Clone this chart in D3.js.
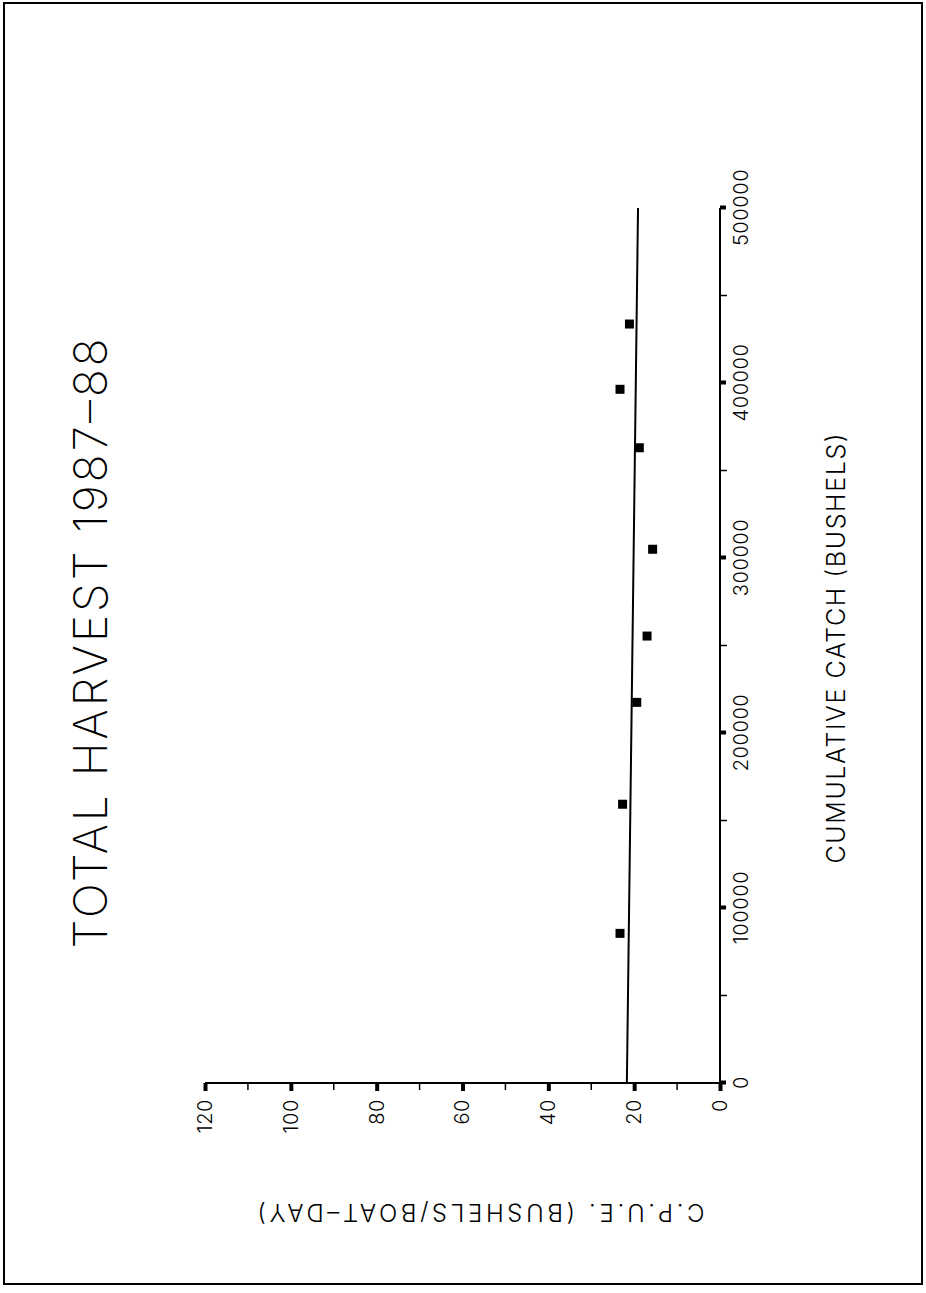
<!DOCTYPE html>
<html>
<head>
<meta charset="utf-8">
<script src="https://cdn.jsdelivr.net/npm/d3@7"></script>
<style>
  body { margin: 0; background: #fff; }
  text { font-family: Inter, "DejaVu Sans", sans-serif; fill: #000; }
</style>
</head>
<body>
<svg id="chart" width="926" height="1293"></svg>
<script>
// Cumulative catch (bushels) and catch per unit effort for each sampling period
const catchValues = [85500, 159300, 217500, 255400, 305000, 363000, 396400, 433700];
const cpueValues  = [23.3, 22.7, 19.4, 17.0, 15.7, 18.8, 23.3, 21.1];

// Fitted depletion line (end points)
const fitCatch = [0, 500000];
const fitCpue  = [21.7, 19.1];

// Axis ticks
const xMajorTicks = [0, 100000, 200000, 300000, 400000, 500000];
const xMinorTicks = [50000, 150000, 250000, 350000, 450000];
const yMajorTicks = [0, 20, 40, 60, 80, 100, 120];
const yMinorTicks = [10, 30, 50, 70, 90, 110];

const titleText  = "TOTAL HARVEST 1987\u201388";
const xLabelText = "CUMULATIVE CATCH (BUSHELS)";
const yLabelText = "C.P.U.E. (BUSHELS/BOAT\u2013DAY)";

const svg = d3.select("#chart");

// page frame
svg.append("rect")
  .attr("x", 4).attr("y", 3).attr("width", 918).attr("height", 1281)
  .attr("fill", "none").attr("stroke", "#000").attr("stroke-width", 2);

// plot is laid out in its own frame, then turned a quarter turn on the page
const plotW = 875, plotH = 515;
const x = d3.scaleLinear().domain([0, 500000]).range([0, plotW]);
const y = d3.scaleLinear().domain([0, 120]).range([0, -plotH]);

const g = svg.append("g").attr("transform", "translate(720,1083) rotate(-90)");

// X axis: major ticks thick, half-step ticks thin
const xAxis = g.append("g")
  .call(d3.axisBottom(x).tickValues(xMajorTicks).tickSize(6).tickPadding(8)
    .tickFormat(d3.format("d")));
xAxis.select(".domain").attr("stroke-width", 2).attr("d", `M0,0H${plotW}`);
xAxis.selectAll(".tick line").attr("stroke-width", 4);
xAxis.selectAll(".tick text").attr("font-size", 20).attr("font-weight", 300)
  .attr("letter-spacing", 0.6).attr("dy", "0.71em");
g.append("g").selectAll("line").data(xMinorTicks).join("line")
  .attr("x1", d => x(d)).attr("x2", d => x(d))
  .attr("y1", 0).attr("y2", 7).attr("stroke", "#000").attr("stroke-width", 1.5);

// Y axis
const yAxis = g.append("g")
  .call(d3.axisLeft(y).tickValues(yMajorTicks).tickSize(8).tickPadding(8)
    .tickFormat(d3.format("d")));
yAxis.select(".domain").attr("stroke-width", 2).attr("d", `M0,0V${-plotH}`);
yAxis.selectAll(".tick line").attr("stroke-width", 4);
yAxis.selectAll(".tick text").attr("font-size", 20).attr("font-weight", 300)
  .attr("letter-spacing", 0.6);
g.append("g").selectAll("line").data(yMinorTicks).join("line")
  .attr("y1", d => y(d)).attr("y2", d => y(d))
  .attr("x1", 0).attr("x2", -7).attr("stroke", "#000").attr("stroke-width", 1.5);

// fitted line
g.append("path")
  .datum(fitCatch.map((c, i) => [c, fitCpue[i]]))
  .attr("fill", "none").attr("stroke", "#000").attr("stroke-width", 2)
  .attr("d", d3.line().x(d => x(d[0])).y(d => y(d[1])));

// observations
const size = 9;
g.append("g").selectAll("rect").data(catchValues).join("rect")
  .attr("x", d => x(d) - size / 2)
  .attr("y", (d, i) => y(cpueValues[i]) - size / 2)
  .attr("width", size).attr("height", size).attr("fill", "#000");

// title
g.append("text")
  .attr("x", plotW / 2 + 2).attr("y", -613)
  .attr("text-anchor", "middle").attr("font-size", 46).attr("font-weight", 200)
  .attr("textLength", 610).attr("lengthAdjust", "spacing")
  .text(titleText);

// axis titles
g.append("text")
  .attr("x", plotW / 2 - 3).attr("y", 125)
  .attr("text-anchor", "middle").attr("font-size", 25).attr("font-weight", 300)
  .attr("textLength", 430).attr("lengthAdjust", "spacing")
  .text(xLabelText);

g.append("text")
  .attr("transform", "translate(-121,-239) rotate(-90)")
  .attr("text-anchor", "middle").attr("font-size", 24).attr("font-weight", 300)
  .attr("textLength", 447).attr("lengthAdjust", "spacing")
  .text(yLabelText);
</script>
</body>
</html>
